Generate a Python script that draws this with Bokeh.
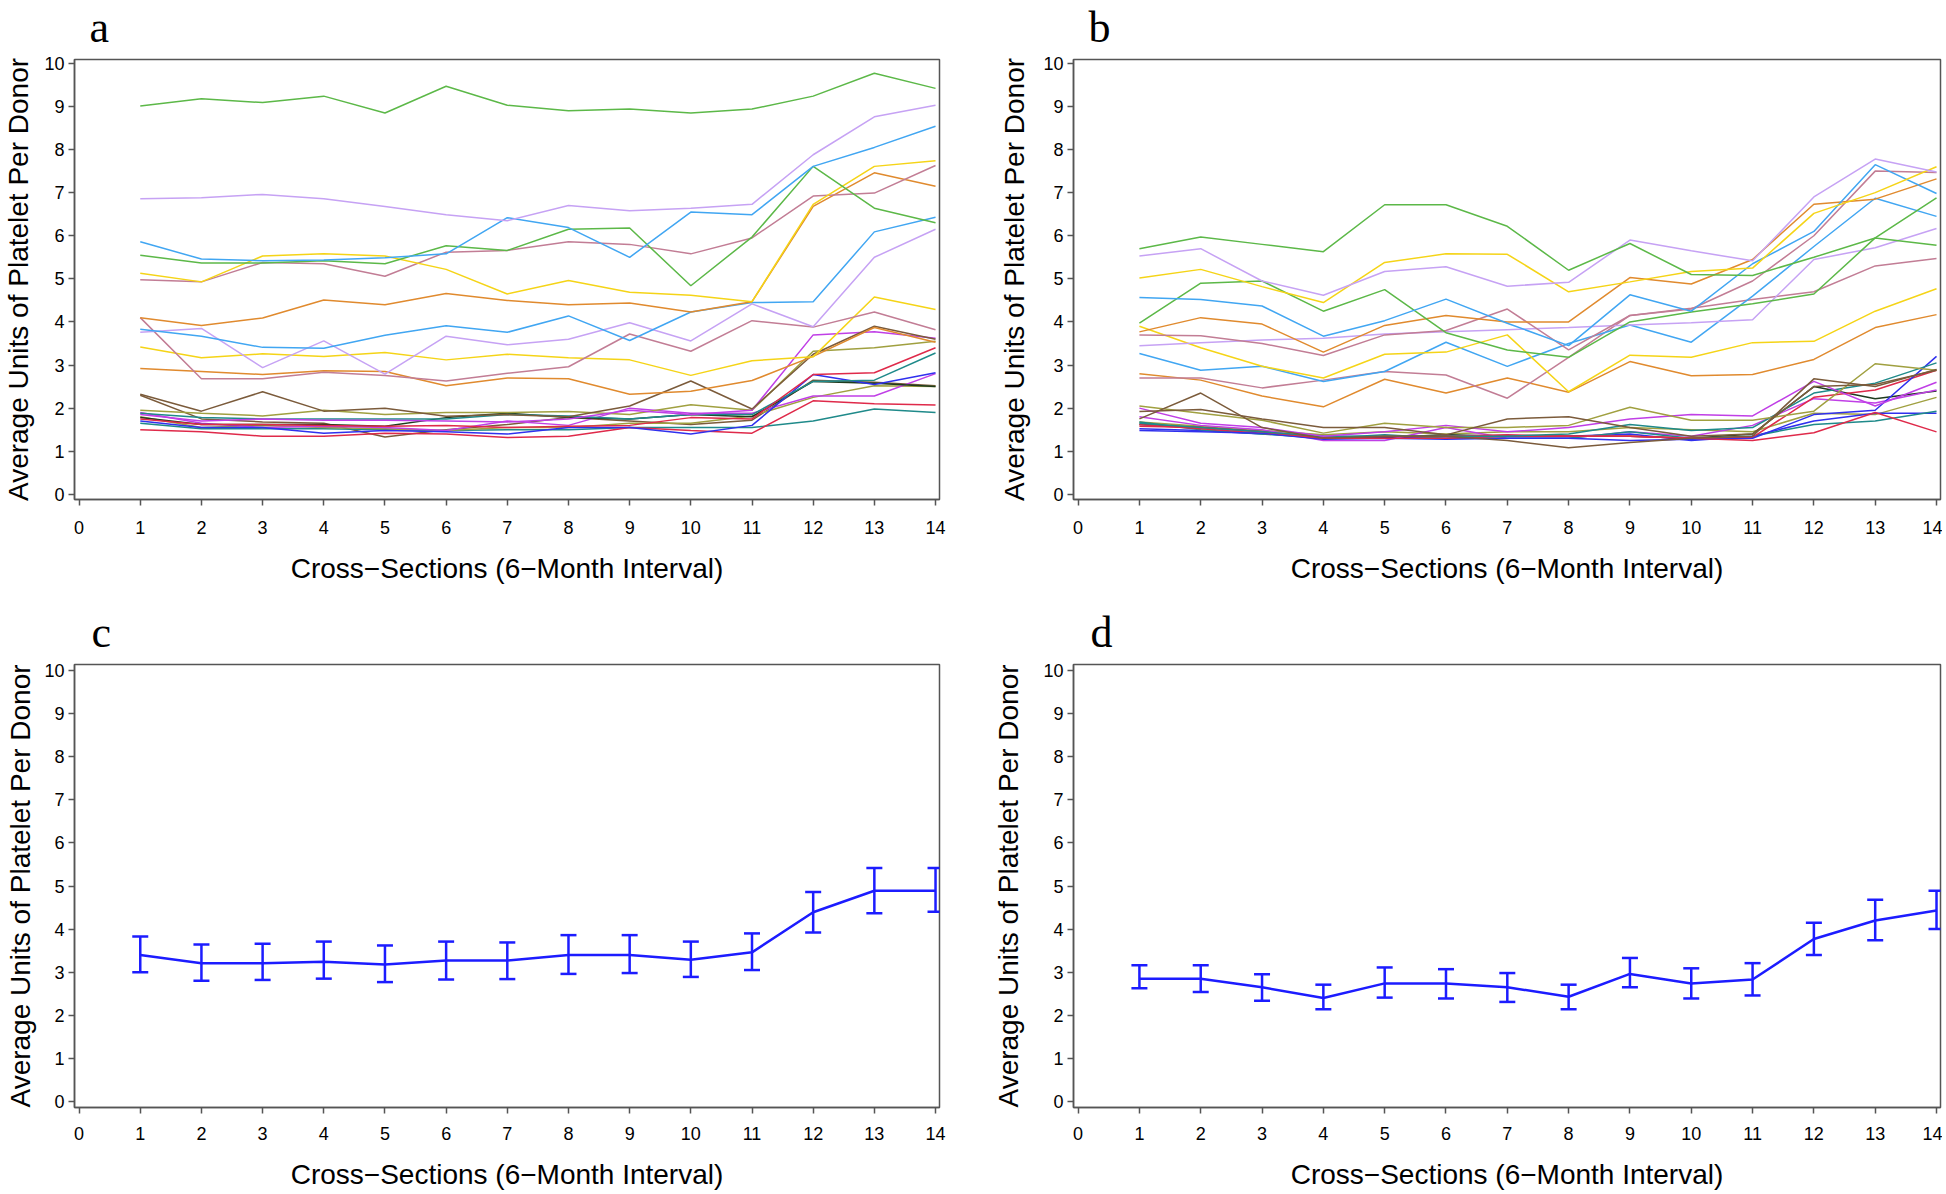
from bokeh.plotting import figure
from bokeh.layouts import gridplot
from bokeh.models import Range1d, FixedTicker, Title, Whisker, TeeHead, ColumnDataSource
from bokeh.embed import file_html
from bokeh.resources import INLINE

# ---------------- data ----------------
cross_sections = [1, 2, 3, 4, 5, 6, 7, 8, 9, 10, 11, 12, 13, 14]
x_ticks = [0, 1, 2, 3, 4, 5, 6, 7, 8, 9, 10, 11, 12, 13, 14]
x_tick_labels = ["0", "1", "2", "3", "4", "5", "6", "7", "8", "9", "10", "11", "12", "13", "14"]
y_ticks = [0, 1, 2, 3, 4, 5, 6, 7, 8, 9, 10]
x_title = "Cross\u2212Sections (6\u2212Month Interval)"
y_title = "Average Units of Platelet Per Donor"
panel_letters = ["a", "b", "c", "d"]

# panel a: individual trajectories
a_green_1 = [9.01, 9.18, 9.09, 9.24, 8.85, 9.47, 9.03, 8.90, 8.94, 8.85, 8.94, 9.24, 9.77, 9.42]
a_lavender_1 = [6.86, 6.88, 6.96, 6.86, 6.68, 6.49, 6.35, 6.70, 6.58, 6.64, 6.73, 7.88, 8.76, 9.03]
a_blue_1 = [5.86, 5.46, 5.42, 5.44, 5.49, 5.58, 6.42, 6.19, 5.50, 6.55, 6.49, 7.61, 8.05, 8.54]
a_green_2 = [5.55, 5.37, 5.37, 5.42, 5.35, 5.77, 5.66, 6.15, 6.18, 4.84, 5.97, 7.61, 6.64, 6.30]
a_yellow_1 = [5.13, 4.93, 5.53, 5.58, 5.53, 5.22, 4.65, 4.96, 4.69, 4.62, 4.47, 6.73, 7.61, 7.74]
a_mauve_1 = [4.98, 4.93, 5.38, 5.35, 5.06, 5.62, 5.66, 5.86, 5.80, 5.58, 5.95, 6.92, 6.99, 7.63]
a_orange_1 = [4.10, 3.92, 4.09, 4.51, 4.40, 4.66, 4.50, 4.40, 4.44, 4.23, 4.47, 6.68, 7.46, 7.15]
a_blue_2 = [3.83, 3.67, 3.41, 3.39, 3.69, 3.91, 3.76, 4.14, 3.57, 4.23, 4.45, 4.47, 6.09, 6.43]
a_lavender_2 = [3.76, 3.85, 2.94, 3.56, 2.79, 3.67, 3.47, 3.60, 3.98, 3.56, 4.42, 3.89, 5.50, 6.15]
a_mauve_2 = [4.10, 2.68, 2.68, 2.83, 2.76, 2.63, 2.81, 2.96, 3.72, 3.32, 4.03, 3.88, 4.23, 3.82]
a_yellow_2 = [3.42, 3.17, 3.26, 3.20, 3.29, 3.12, 3.25, 3.17, 3.12, 2.76, 3.10, 3.19, 4.58, 4.29]
a_orange_2 = [2.92, 2.85, 2.78, 2.87, 2.85, 2.52, 2.70, 2.68, 2.32, 2.39, 2.64, 3.20, 3.87, 3.53]
a_brown_1 = [2.32, 1.93, 2.38, 1.93, 2.00, 1.81, 1.85, 1.80, 2.05, 2.63, 1.98, 3.25, 3.90, 3.60]
a_purple_1 = [1.85, 1.70, 1.75, 1.72, 1.72, 1.70, 1.68, 1.75, 1.95, 1.85, 1.95, 3.70, 3.77, 3.62]
a_olive_1 = [1.95, 1.88, 1.82, 1.95, 1.85, 1.90, 1.90, 1.92, 1.85, 2.08, 1.95, 3.32, 3.40, 3.55]
a_red_1 = [1.75, 1.62, 1.62, 1.60, 1.58, 1.60, 1.55, 1.58, 1.60, 1.78, 1.75, 2.78, 2.82, 3.40]
a_teal_1 = [1.88, 1.78, 1.75, 1.75, 1.75, 1.75, 1.85, 1.82, 1.75, 1.85, 1.85, 2.62, 2.65, 3.28]
a_blue_3 = [1.70, 1.55, 1.55, 1.42, 1.48, 1.45, 1.40, 1.55, 1.55, 1.40, 1.60, 2.78, 2.55, 2.82]
a_dark_1 = [1.78, 1.62, 1.62, 1.62, 1.58, 1.78, 1.88, 1.78, 1.75, 1.85, 1.80, 2.62, 2.58, 2.50]
a_purple_2 = [1.90, 1.65, 1.55, 1.58, 1.55, 1.48, 1.70, 1.60, 2.00, 1.88, 1.88, 2.28, 2.28, 2.80]
a_olive_2 = [1.80, 1.55, 1.60, 1.55, 1.52, 1.48, 1.55, 1.55, 1.65, 1.65, 1.82, 2.25, 2.52, 2.50]
a_red_2 = [1.50, 1.45, 1.35, 1.35, 1.42, 1.40, 1.32, 1.35, 1.55, 1.48, 1.42, 2.17, 2.10, 2.07]
a_teal_2 = [1.65, 1.52, 1.52, 1.52, 1.50, 1.48, 1.50, 1.50, 1.55, 1.55, 1.55, 1.70, 1.98, 1.90]
a_brown_2 = [2.30, 1.75, 1.68, 1.65, 1.33, 1.50, 1.62, 1.78, 1.70, 1.62, 1.72, 2.65, 2.60, 2.52]

# panel b: individual trajectories
b_green_1 = [5.70, 5.97, 5.80, 5.63, 6.72, 6.72, 6.22, 5.20, 5.82, 5.10, 5.08, 5.50, 5.95, 5.78]
b_lavender_1 = [5.53, 5.70, 4.95, 4.62, 5.17, 5.28, 4.83, 4.92, 5.90, 5.65, 5.42, 6.90, 7.78, 7.48]
b_yellow_1 = [5.02, 5.22, 4.82, 4.45, 5.38, 5.58, 5.57, 4.70, 4.93, 5.17, 5.25, 6.52, 7.00, 7.60]
b_blue_1 = [4.57, 4.52, 4.37, 3.67, 4.03, 4.53, 3.97, 3.45, 4.63, 4.25, 5.35, 6.10, 7.65, 6.98]
b_green_2 = [3.97, 4.90, 4.95, 4.25, 4.75, 3.75, 3.35, 3.18, 4.00, 4.23, 4.42, 4.65, 5.95, 6.88]
b_orange_1 = [3.77, 4.10, 3.95, 3.30, 3.92, 4.15, 4.00, 4.00, 5.03, 4.88, 5.45, 6.73, 6.85, 7.32]
b_mauve_1 = [3.70, 3.68, 3.50, 3.22, 3.70, 3.80, 4.30, 3.35, 4.15, 4.30, 4.95, 6.00, 7.50, 7.47]
b_lavender_2 = [3.45, 3.52, 3.58, 3.62, 3.72, 3.77, 3.82, 3.87, 3.93, 3.98, 4.05, 5.45, 5.72, 6.17]
b_yellow_2 = [3.90, 3.40, 2.97, 2.70, 3.25, 3.30, 3.70, 2.38, 3.23, 3.18, 3.52, 3.55, 4.25, 4.77]
b_blue_2 = [3.27, 2.88, 2.97, 2.62, 2.85, 3.53, 2.97, 3.50, 3.93, 3.53, 4.60, 5.75, 6.87, 6.45]
b_mauve_2 = [2.70, 2.70, 2.47, 2.65, 2.85, 2.77, 2.23, 3.18, 4.15, 4.32, 4.52, 4.70, 5.30, 5.47]
b_orange_2 = [2.80, 2.65, 2.28, 2.03, 2.67, 2.35, 2.70, 2.37, 3.08, 2.75, 2.78, 3.13, 3.87, 4.17]
b_brown_1 = [1.75, 2.35, 1.55, 1.30, 1.35, 1.35, 1.25, 1.08, 1.20, 1.30, 1.35, 2.68, 2.50, 2.90]
b_brown_2 = [1.92, 1.97, 1.75, 1.55, 1.55, 1.38, 1.75, 1.80, 1.55, 1.35, 1.40, 2.50, 2.55, 2.88]
b_olive_1 = [2.05, 1.88, 1.72, 1.42, 1.65, 1.55, 1.55, 1.60, 2.02, 1.72, 1.72, 1.93, 3.03, 2.88]
b_purple_1 = [2.00, 1.65, 1.55, 1.35, 1.45, 1.60, 1.45, 1.55, 1.75, 1.85, 1.82, 2.62, 2.05, 2.60]
b_teal_1 = [1.65, 1.55, 1.45, 1.35, 1.35, 1.35, 1.35, 1.40, 1.62, 1.48, 1.55, 2.35, 2.58, 3.05]
b_red_1 = [1.58, 1.55, 1.45, 1.30, 1.30, 1.30, 1.35, 1.35, 1.35, 1.30, 1.25, 1.43, 1.90, 1.45]
b_blue_3 = [1.48, 1.45, 1.42, 1.28, 1.30, 1.28, 1.30, 1.30, 1.25, 1.28, 1.30, 1.85, 1.95, 3.20]
b_red_2 = [1.62, 1.52, 1.42, 1.30, 1.35, 1.35, 1.38, 1.35, 1.35, 1.30, 1.32, 2.25, 2.42, 2.88]
b_teal_2 = [1.68, 1.50, 1.40, 1.30, 1.38, 1.30, 1.30, 1.30, 1.45, 1.30, 1.35, 1.62, 1.70, 1.93]
b_purple_2 = [1.80, 1.60, 1.50, 1.25, 1.25, 1.55, 1.30, 1.30, 1.45, 1.35, 1.60, 2.22, 2.12, 2.42]
b_dark_1 = [1.62, 1.55, 1.45, 1.32, 1.32, 1.38, 1.35, 1.35, 1.35, 1.30, 1.40, 2.50, 2.22, 2.40]
b_blue_4 = [1.52, 1.48, 1.40, 1.35, 1.33, 1.30, 1.35, 1.35, 1.40, 1.25, 1.35, 1.70, 1.88, 1.88]
b_olive_2 = [1.68, 1.58, 1.48, 1.38, 1.45, 1.40, 1.45, 1.45, 1.55, 1.50, 1.45, 1.88, 1.85, 2.25]

# panel c: mean with 95% interval
c_mean = [3.40, 3.21, 3.21, 3.24, 3.18, 3.27, 3.27, 3.40, 3.40, 3.29, 3.46, 4.39, 4.89, 4.89]
c_upper = [3.83, 3.64, 3.66, 3.71, 3.62, 3.71, 3.69, 3.86, 3.86, 3.71, 3.90, 4.86, 5.42, 5.42]
c_lower = [3.00, 2.80, 2.82, 2.85, 2.77, 2.83, 2.84, 2.96, 2.98, 2.89, 3.05, 3.92, 4.37, 4.40]

# panel d: mean with 95% interval
d_mean = [2.85, 2.85, 2.65, 2.40, 2.74, 2.74, 2.65, 2.43, 2.96, 2.74, 2.83, 3.77, 4.20, 4.43]
d_upper = [3.16, 3.16, 2.95, 2.71, 3.11, 3.07, 2.98, 2.71, 3.33, 3.09, 3.21, 4.15, 4.68, 4.89]
d_lower = [2.63, 2.54, 2.34, 2.14, 2.41, 2.39, 2.31, 2.14, 2.65, 2.39, 2.46, 3.40, 3.74, 4.00]

# ---------------- styles ----------------
GREEN = "#5cb848"
LAVENDER = "#c6a2f4"
SKY = "#41a6f2"
YELLOW = "#f5d417"
MAUVE = "#c27d95"
ORANGE = "#e08a2e"
BROWN = "#7b5b3b"
PURPLE = "#c03fe6"
OLIVE = "#a0a040"
RED = "#df2a4a"
TEAL = "#1f8a8a"
BLUE = "#3030ee"
DARK = "#1e3b1e"
MEAN_BLUE = "#1c1cff"
AXIS_GRAY = "#555555"

panel_a_series = [
    (a_brown_2, BROWN), (a_teal_2, TEAL), (a_red_2, RED), (a_olive_2, OLIVE),
    (a_purple_2, PURPLE), (a_dark_1, DARK), (a_blue_3, BLUE), (a_teal_1, TEAL),
    (a_red_1, RED), (a_olive_1, OLIVE), (a_purple_1, PURPLE), (a_brown_1, BROWN),
    (a_orange_2, ORANGE), (a_yellow_2, YELLOW), (a_mauve_2, MAUVE), (a_lavender_2, LAVENDER),
    (a_blue_2, SKY), (a_orange_1, ORANGE), (a_mauve_1, MAUVE), (a_yellow_1, YELLOW),
    (a_green_2, GREEN), (a_blue_1, SKY), (a_lavender_1, LAVENDER), (a_green_1, GREEN),
]
panel_b_series = [
    (b_olive_2, OLIVE), (b_blue_4, BLUE), (b_dark_1, DARK), (b_purple_2, PURPLE),
    (b_teal_2, TEAL), (b_red_2, RED), (b_blue_3, BLUE), (b_red_1, RED),
    (b_teal_1, TEAL), (b_purple_1, PURPLE), (b_olive_1, OLIVE), (b_brown_2, BROWN),
    (b_brown_1, BROWN), (b_orange_2, ORANGE), (b_mauve_2, MAUVE), (b_blue_2, SKY),
    (b_yellow_2, YELLOW), (b_lavender_2, LAVENDER), (b_mauve_1, MAUVE), (b_orange_1, ORANGE),
    (b_green_2, GREEN), (b_blue_1, SKY), (b_yellow_1, YELLOW), (b_lavender_1, LAVENDER),
    (b_green_1, GREEN),
]

SANS = "Liberation Sans"
SERIF = "Liberation Serif"


def make_panel(width, height, left, right, top, bottom, y_lo, y_hi,
               y_label_standoff, x_tick_standoff, x_label_standoff, letter, letter_offset):
    p = figure(width=width, height=height, title=None, tools="",
               toolbar_location=None, output_backend="svg",
               x_range=Range1d(-0.075, 14.065), y_range=Range1d(y_lo, y_hi),
               min_border_left=left, min_border_right=right,
               min_border_top=top, min_border_bottom=bottom)
    p.xgrid.visible = False
    p.ygrid.visible = False
    p.background_fill_color = "white"
    p.border_fill_color = "white"
    p.outline_line_color = AXIS_GRAY
    p.outline_line_width = 1.5
    p.xaxis.ticker = FixedTicker(ticks=x_ticks)
    p.yaxis.ticker = FixedTicker(ticks=y_ticks)
    p.xaxis.major_label_overrides = {t: s for t, s in zip(x_ticks, x_tick_labels)}
    for ax in (p.xaxis[0], p.yaxis[0]):
        ax.axis_line_color = AXIS_GRAY
        ax.axis_line_width = 1.5
        ax.major_tick_line_color = AXIS_GRAY
        ax.major_tick_line_width = 1.5
        ax.major_tick_out = 6
        ax.major_tick_in = 0
        ax.minor_tick_line_color = None
        ax.major_label_text_font = SANS
        ax.major_label_text_font_size = "18px"
        ax.major_label_text_color = "black"
        ax.axis_label_text_font = SANS
        ax.axis_label_text_font_size = "28px"
        ax.axis_label_text_font_style = "normal"
        ax.axis_label_text_color = "black"
    p.yaxis.major_label_standoff = 4
    p.yaxis.axis_label = y_title
    p.yaxis.axis_label_standoff = y_label_standoff
    p.xaxis.major_label_standoff = x_tick_standoff
    p.xaxis.axis_label = x_title
    p.xaxis.axis_label_standoff = x_label_standoff
    # small spacer, then the panel letter above the frame
    p.add_layout(Title(text=" ", text_font_size="5px", standoff=0), "above")
    p.add_layout(Title(text=letter, text_font=SERIF, text_font_size="44px",
                       text_font_style="normal", text_color="black",
                       align="left", offset=letter_offset, standoff=0), "above")
    return p


def add_mean_panel(p, mean, lower, upper):
    p.line(cross_sections, mean, line_color=MEAN_BLUE, line_width=2.5)
    src = ColumnDataSource(data=dict(x=cross_sections, lower=lower, upper=upper))
    p.add_layout(Whisker(base="x", lower="lower", upper="upper", source=src,
                         line_color=MEAN_BLUE, line_width=2.5,
                         upper_head=TeeHead(size=16, line_color=MEAN_BLUE, line_width=2.5),
                         lower_head=TeeHead(size=16, line_color=MEAN_BLUE, line_width=2.5)))


pa = make_panel(990, 600, 72, 49, 57, 101, -0.12, 10.09, 7, 15, 16, panel_letters[0], 15)
for ys, col in panel_a_series:
    pa.line(cross_sections, ys, line_color=col, line_width=1.5)

pb = make_panel(952, 600, 82, 2, 57, 101, -0.12, 10.09, 10, 15, 16, panel_letters[1], 15)
for ys, col in panel_b_series:
    pb.line(cross_sections, ys, line_color=col, line_width=1.5)

pc = make_panel(990, 593, 70, 51, 64, 86, -0.14, 10.14, 5, 13, 16, panel_letters[2], 17)
add_mean_panel(pc, c_mean, c_lower, c_upper)

pd = make_panel(952, 593, 81, 2, 64, 86, -0.14, 10.14, 16, 13, 16, panel_letters[3], 17)
add_mean_panel(pd, d_mean, d_lower, d_upper)

layout = gridplot([[pa, pb], [pc, pd]], toolbar_location=None)

open("out.html", "w").write(file_html(layout, INLINE))
